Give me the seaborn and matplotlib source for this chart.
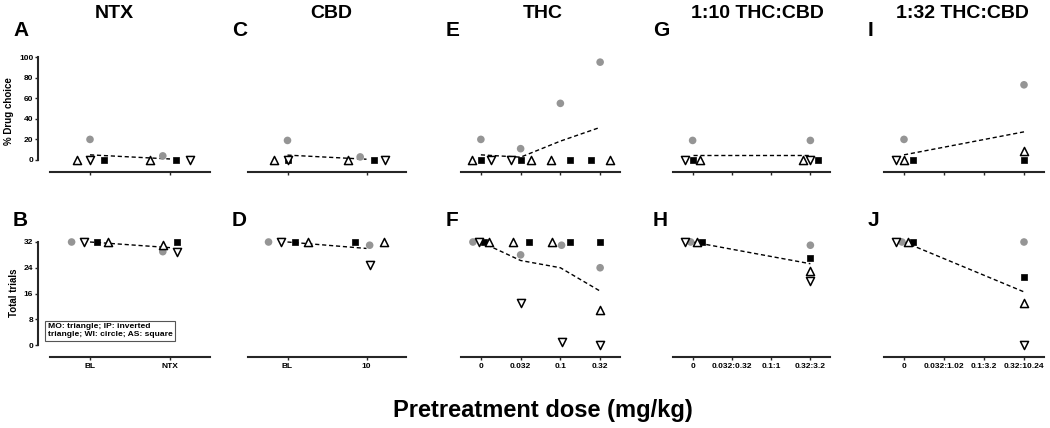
import numpy as np
import pandas as pd
import matplotlib
matplotlib.use('Agg')
import matplotlib.pyplot as plt
import seaborn as sns

nan = np.nan

# dose labels per drug
ntx_doses = ['BL', 'NTX']
cbd_doses = ['BL', '10']
thc_doses = ['0', '0.032', '0.1', '0.32']
mix10_doses = ['0', '0.032:0.32', '0.1:1', '0.32:3.2']
mix32_doses = ['0', '0.032:1.02', '0.1:3.2', '0.32:10.24']

# % drug choice (top row)
ntx_pct = {'MO': [0, 0], 'IP': [0, 0], 'WI': [20, 4], 'AS': [0, 0]}
cbd_pct = {'MO': [0, 0], 'IP': [0, 0], 'WI': [19, 3], 'AS': [0, 0]}
thc_pct = {'MO': [0, 0, 0, 0], 'IP': [0, 0, nan, nan], 'WI': [20, 11, 55, 95], 'AS': [0, 0, 0, 0]}
mix10_pct = {'MO': [0, nan, nan, 0], 'IP': [0, nan, nan, 0], 'WI': [19, nan, nan, 19], 'AS': [0, nan, nan, 0]}
mix32_pct = {'MO': [0, nan, nan, 9], 'IP': [0, nan, nan, nan], 'WI': [20, nan, nan, 73], 'AS': [0, nan, nan, 0]}

# total trials (bottom row)
ntx_trials = {'MO': [32, 31], 'IP': [32, 29], 'WI': [32, 29], 'AS': [32, 32]}
cbd_trials = {'MO': [32, 32], 'IP': [32, 25], 'WI': [32, 31], 'AS': [32, 32]}
thc_trials = {'MO': [32, 32, 32, 11], 'IP': [32, 13, 1, 0], 'WI': [32, 28, 31, 24], 'AS': [32, 32, 32, 32]}
mix10_trials = {'MO': [32, nan, nan, 23], 'IP': [32, nan, nan, 20], 'WI': [32, nan, nan, 31], 'AS': [32, nan, nan, 27]}
mix32_trials = {'MO': [32, nan, nan, 13], 'IP': [32, nan, nan, 0], 'WI': [32, nan, nan, 32], 'AS': [32, nan, nan, 21]}

# horizontal spread of points around each dose (fraction of dose spacing)
off_a = {'MO': [-0.16, -0.25], 'IP': [0, 0.25], 'WI': [0, -0.09], 'AS': [0.17, 0.07]}
off_b = {'MO': [0.23, -0.09], 'IP': [-0.07, 0.09], 'WI': [-0.23, -0.09], 'AS': [0.09, 0.09]}
off_c = {'MO': [-0.17, -0.24], 'IP': [0, 0.24], 'WI': [0, -0.08], 'AS': [0, 0.09]}
off_d = {'MO': [0.26, 0.22], 'IP': [-0.08, 0.04], 'WI': [-0.24, 0.04], 'AS': [0.09, -0.14]}
off_e = {'MO': [-0.23, 0.25, -0.23, 0.25], 'IP': [0.25, -0.25, 0, 0], 'WI': [0, 0, 0, 0], 'AS': [0, 0, 0.23, -0.23]}
off_f = {'MO': [0.2, -0.18, -0.2, 0], 'IP': [-0.05, 0, 0.03, 0], 'WI': [-0.2, 0, 0.03, 0], 'AS': [0.08, 0.2, 0.23, 0]}
off_g = {'MO': [0.2, 0, 0, -0.2], 'IP': [-0.2, 0, 0, 0], 'WI': [0, 0, 0, 0], 'AS': [0, 0, 0, 0.2]}
off_h = {'MO': [0.1, 0, 0, 0], 'IP': [-0.2, 0, 0, 0], 'WI': [-0.05, 0, 0, 0], 'AS': [0.23, 0, 0, 0]}
off_i = {'MO': [0, 0, 0, 0], 'IP': [-0.2, 0, 0, 0], 'WI': [0, 0, 0, 0], 'AS': [0.22, 0, 0, 0]}
off_j = {'MO': [0.1, 0, 0, 0], 'IP': [-0.2, 0, 0, 0], 'WI': [-0.05, 0, 0, 0], 'AS': [0.22, 0, 0, 0]}

sns.set_style('ticks')
plt.rcParams['font.family'] = ['Liberation Sans', 'DejaVu Sans']
plt.rcParams['font.weight'] = 'bold'
plt.rcParams['text.color'] = 'black'
plt.rcParams['xtick.color'] = 'black'
plt.rcParams['ytick.color'] = 'black'

spine_col = '#262626'
styles = {
    'WI': dict(marker='o', s=30, color='#959595', edgecolor='none', linewidth=0),
    'AS': dict(marker='s', s=24, color='black', edgecolor='black', linewidth=0.5),
    'MO': dict(marker='^', s=34, color='white', edgecolor='black', linewidth=1.1),
    'IP': dict(marker='v', s=34, color='white', edgecolor='black', linewidth=1.1),
}


def draw_panel(ax, doses, values, offsets, ylim, yticks, first_col, bottom_row):
    rows = []
    for s in ['WI', 'AS', 'MO', 'IP']:
        for i, (v, o) in enumerate(zip(values[s], offsets[s])):
            rows.append({'subject': s, 'dose': i, 'x': i + o, 'value': v})
    df = pd.DataFrame(rows)
    means = df.groupby('dose', as_index=False)['value'].mean().dropna()
    sns.lineplot(data=means, x='dose', y='value', ax=ax, color='black', lw=1,
                 linestyle=(0, (3, 2)), estimator=None, clip_on=False, zorder=2)
    for s in ['WI', 'AS', 'MO', 'IP']:
        sub = df[df.subject == s].dropna()
        sns.scatterplot(data=sub, x='x', y='value', ax=ax, clip_on=False, zorder=3,
                        legend=False, **styles[s])

    ax.set_xlim(-0.5, len(doses) - 0.5)
    ax.set_ylim(*ylim)
    ax.set_xticks(range(len(doses)))
    ax.set_xlabel('')
    ax.set_ylabel('')
    ax.spines['top'].set_visible(False)
    ax.spines['right'].set_visible(False)
    ax.spines['bottom'].set_position(('outward', 8.6))
    ax.spines['bottom'].set_color(spine_col)
    ax.spines['bottom'].set_linewidth(1.5)
    ax.tick_params(axis='x', length=2.5, width=1, color=spine_col, pad=2, labelsize=6)
    if bottom_row:
        ax.set_xticklabels(doses)
    else:
        ax.set_xticklabels([])
    if first_col:
        ax.spines['left'].set_position(('outward', 8.6))
        ax.spines['left'].set_color(spine_col)
        ax.spines['left'].set_linewidth(1.5)
        ax.set_yticks(yticks)
        ax.tick_params(axis='y', length=2.5, width=1, color=spine_col, pad=1, labelsize=6)
    else:
        ax.spines['left'].set_visible(False)
        ax.set_yticks([])


W, H = 1050, 428
fig = plt.figure(figsize=(W / 100, H / 100), dpi=100)

cols = [(50, 210), (248, 406), (461, 620), (673, 830), (884, 1044)]
rows_px = [(57, 160), (242, 345)]

panels = [
    (ntx_doses, ntx_pct, off_a, ntx_trials, off_b),
    (cbd_doses, cbd_pct, off_c, cbd_trials, off_d),
    (thc_doses, thc_pct, off_e, thc_trials, off_f),
    (mix10_doses, mix10_pct, off_g, mix10_trials, off_h),
    (mix32_doses, mix32_pct, off_i, mix32_trials, off_j),
]

for c, (doses, pct, off_top, trials, off_bot) in enumerate(panels):
    x0, x1 = cols[c]
    for r in range(2):
        y0, y1 = rows_px[r]
        ax = fig.add_axes([x0 / W, 1 - y1 / H, (x1 - x0) / W, (y1 - y0) / H])
        if r == 0:
            draw_panel(ax, doses, pct, off_top, (0, 100), [0, 20, 40, 60, 80, 100], c == 0, False)
        else:
            draw_panel(ax, doses, trials, off_bot, (0, 32), [0, 8, 16, 24, 32], c == 0, True)

# column titles
titles = ['NTX', 'CBD', 'THC', '1:10 THC:CBD', '1:32 THC:CBD']
title_x = [114, 331, 543, 757, 962]
for t, x in zip(titles, title_x):
    fig.text(x / W, 1 - 13 / H, t, ha='center', va='center', fontsize=14, fontweight='bold')

# panel letters
letters_top = ['A', 'C', 'E', 'G', 'I']
letters_bot = ['B', 'D', 'F', 'H', 'J']
letter_x = [13, 232, 446, 653, 868]
for lt, lb, x in zip(letters_top, letters_bot, letter_x):
    fig.text(x / W, 1 - 30 / H, lt, ha='left', va='center', fontsize=15, fontweight='bold')
    fig.text(x / W, 1 - 221 / H, lb, ha='left', va='center', fontsize=15, fontweight='bold')

fig.text(9 / W, 1 - 111 / H, '% Drug choice', rotation=90, ha='center', va='center', fontsize=7)
fig.text(14 / W, 1 - 293 / H, 'Total trials', rotation=90, ha='center', va='center', fontsize=7)

fig.text(48 / W, 1 - 331 / H, 'MO: triangle; IP: inverted\ntriangle; WI: circle; AS: square',
         ha='left', va='center', fontsize=6.1, linespacing=1.2,
         bbox=dict(boxstyle='square,pad=0.3', fc='white', ec='#555555', lw=0.8))

fig.text(543 / W, 1 - 411 / H, 'Pretreatment dose (mg/kg)', ha='center', va='center',
         fontsize=17, fontweight='bold')

fig.savefig('out.png', dpi=100)
